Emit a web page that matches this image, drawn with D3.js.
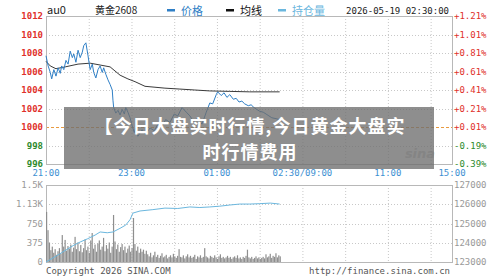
<!DOCTYPE html>
<html>
<head>
<meta charset="utf-8">
<script src="https://cdn.jsdelivr.net/npm/d3@7"></script>
<style>
  body { margin: 0; background: #fff; }
  svg { display: block; font-family: "DejaVu Sans Mono", monospace; font-size: 9px; }
</style>
</head>
<body>
<div id="chart"></div>
<script>
// slots from 21:00 (night session first, then day session)
const timeTicks = [0, 120, 240, 360, 480, 570];
const timeLabels = ["21:00", "23:00", "01:00", "02:30/09:00", "11:00", "15:00"];

const priceTicks = [1012, 1010, 1008, 1006, 1004, 1002, 1000, 998, 996];
const pctLabels = ["+1.21%", "+1.01%", "+0.81%", "+0.61%", "+0.41%", "+0.21%", "+0.01%", "-0.19%", "-0.39%"];
const prevClose = 1000;

const volTicks = [0, 375, 750, 1125, 1500];
const volLabels = ["0", "375", "750", "1.13K", "1.5K"];
const oiLabels = ["123000", "124000", "125000", "126000", "127000"];

// price (t in slots, p)
const priceT = [0, 3, 6, 8, 11, 14, 17, 20, 22, 25, 28, 31, 34, 37, 39, 42, 45, 48, 51, 53,
  56, 59, 62, 65, 67, 70, 73, 76, 79, 81, 84, 87, 90, 93, 94, 95, 98, 101, 104, 107,
  110, 112, 115, 118, 121, 124, 126, 129, 135, 140, 146, 152, 157, 163, 168, 174, 180, 185, 191, 197,
  202, 208, 213, 219, 225, 230, 234, 239, 241, 246, 250, 254, 258, 263, 267, 271, 275, 279, 284, 288,
  292, 296, 300, 305, 309, 313, 317, 323, 328];
const priceV = [1007.7, 1006.6, 1005.9, 1005.2, 1006.2, 1005.5, 1006.4, 1005.8, 1006.6, 1006.2,
  1007.2, 1006.8, 1008.2, 1007.5, 1007.9, 1007.0, 1008.3, 1007.5, 1008.1, 1008.8,
  1009.1, 1007.7, 1006.2, 1006.8, 1005.9, 1005.3, 1006.2, 1006.6, 1005.9, 1006.4,
  1005.7, 1005.1, 1004.6, 1004.0, 1002.9, 1002.1, 1001.5, 1001.8, 1001.3, 1001.9,
  1001.4, 1002.1, 1001.6, 1001.0, 1000.1, 999.4, 999.9, 999.0, 999.7, 999.2,
  999.9, 999.6, 1000.3, 1000.1, 1000.8, 1000.5, 1001.4, 1001.2, 1002.1, 1001.6,
  1001.2, 1000.5, 1001.0, 1000.3, 1001.6, 1002.6, 1002.5, 1003.5, 1003.8, 1003.4,
  1003.7, 1003.2, 1003.5, 1003.0, 1003.1, 1002.7, 1002.8, 1002.5, 1002.3, 1002.4,
  1002.1, 1001.9, 1001.7, 1001.6, 1001.4, 1001.2, 1001.0, 1000.9, 1000.8];

// average line
const avgT = [0, 6, 14, 27, 45, 62, 76, 90, 104, 115, 125, 139, 153, 167, 188, 209, 230, 258, 286, 328];
const avgV = [1007.1, 1006.6, 1006.3, 1006.5, 1006.8, 1006.9, 1006.7, 1006.5, 1005.6, 1005.2,
  1004.9, 1004.4, 1004.3, 1004.2, 1004.1, 1004.0, 1003.9, 1003.85, 1003.8, 1003.8];

// open interest
const oiT = [0, 14, 28, 38, 48, 58, 69, 76, 86, 94, 104, 112, 118, 122, 132, 150, 167, 185, 202, 216, 230, 244, 258, 272, 286, 300, 315, 328];
const oiV = [123000, 123300, 123620, 123850, 124040, 124200, 124400, 124560, 124520, 124560, 124750, 124920, 125200, 125540,
  125650, 125720, 125800, 125780, 125860, 125830, 125860, 125900, 125960, 126010, 126010, 126030, 126060, 126010];

// volume, one bar every 2 slots from 21:00
const volStep = 2;
const volume = [975, 620, 380, 230, 300, 180, 250, 140, 210, 270, 160, 525, 300, 430, 220, 310, 260, 340, 200, 280,
  490, 250, 380, 210, 330, 190, 270, 440, 230, 300, 180, 420, 565, 260, 340, 200, 360, 420, 240, 300,
  470, 210, 330, 260, 380, 180, 300, 916, 400, 250, 340, 200, 290, 350, 230, 300, 180, 260, 320, 200,
  270, 857, 350, 220, 300, 180, 260, 200, 240, 160, 220,
  150, 110, 180, 90, 130, 200, 100, 140, 80, 120,
  170, 90, 110, 140, 70, 100, 130, 90, 160, 110,
  80, 120, 250, 100, 90, 130, 70, 110, 150, 90,
  120, 80, 100, 140, 60, 110, 90, 130, 80, 100,
  270, 110, 90, 70, 120, 100, 80, 130, 90, 60,
  110, 150, 80, 100, 70, 90, 120, 80, 100, 60,
  90, 110, 80, 130, 70, 90, 60, 100, 80, 120,
  240, 90, 70, 100, 60, 80, 110, 70, 90, 60,
  80, 100, 70, 150, 90, 110, 160, 80, 120, 100,
  170, 90, 130, 110];

const W = 500, H = 277;
const L = 46, R = 452;
const top1 = 16, bot1 = 164, top2 = 185, bot2 = 262;

const svg = d3.select("#chart").append("svg").attr("width", W).attr("height", H);

const x = d3.scaleLinear().domain([0, 570]).range([L, R]);
const y = d3.scaleLinear().domain([996, 1012]).range([bot1, top1]);
const yv = d3.scaleLinear().domain([0, 1500]).range([bot2, top2]);
const yo = d3.scaleLinear().domain([123000, 127000]).range([bot2, top2]);

const GRID = "#c8c8c8", RED = "#e0302a", GREEN = "#2d8a2d", BLUE = "#2f7fc6";
const CJK = "'Noto Sans CJK SC', sans-serif";

// grids
const vGrid = d3.range(60, 570, 60);
[[top1, bot1], [top2, bot2]].forEach(([t, b]) => {
  svg.append("g").selectAll("line").data(vGrid).join("line")
    .attr("x1", d => x(d) + 0.5).attr("x2", d => x(d) + 0.5)
    .attr("y1", t).attr("y2", b)
    .attr("stroke", GRID).attr("stroke-dasharray", "1,2");
});
svg.append("g").selectAll("line").data(priceTicks.filter(d => d > 996 && d < 1012 && d !== prevClose)).join("line")
  .attr("x1", L).attr("x2", R)
  .attr("y1", d => Math.round(y(d)) + 0.5).attr("y2", d => Math.round(y(d)) + 0.5)
  .attr("stroke", GRID).attr("stroke-dasharray", "1,2");
svg.append("g").selectAll("line").data(volTicks.slice(1, -1)).join("line")
  .attr("x1", L).attr("x2", R)
  .attr("y1", d => Math.round(yv(d)) + 0.5).attr("y2", d => Math.round(yv(d)) + 0.5)
  .attr("stroke", GRID).attr("stroke-dasharray", "1,2");

svg.append("line")
  .attr("x1", L).attr("x2", R)
  .attr("y1", Math.round(y(prevClose)) + 0.5).attr("y2", Math.round(y(prevClose)) + 0.5)
  .attr("stroke", "#e89a40").attr("stroke-dasharray", "3,2");

// borders
svg.append("rect").attr("x", L + 0.5).attr("y", top1 + 0.5).attr("width", R - L).attr("height", bot1 - top1)
  .attr("fill", "none").attr("stroke", "#b8b8b8");
svg.append("rect").attr("x", L + 0.5).attr("y", top2 + 0.5).attr("width", R - L).attr("height", bot2 - top2)
  .attr("fill", "none").attr("stroke", "#b8b8b8");

// price axis labels
svg.append("g").selectAll("text").data(priceTicks).join("text")
  .attr("x", L - 3).attr("y", d => y(d)).attr("dy", "0.35em")
  .attr("text-anchor", "end").attr("font-weight", "bold")
  .attr("fill", d => d >= prevClose ? RED : GREEN)
  .text(d => d);
svg.append("g").selectAll("text").data(pctLabels).join("text")
  .attr("x", R + 2).attr("y", (d, i) => y(priceTicks[i])).attr("dy", "0.35em")
  .attr("fill", d => d[0] === "+" ? RED : GREEN)
  .text(d => d);

// time labels
svg.append("g").selectAll("text").data(timeTicks).join("text")
  .attr("x", d => x(d)).attr("y", 176)
  .attr("text-anchor", "middle").attr("fill", "#3d8fd2")
  .text((d, i) => timeLabels[i]);

// volume labels
svg.append("g").selectAll("text").data(volTicks).join("text")
  .attr("x", L - 3).attr("y", d => yv(d)).attr("dy", "0.35em")
  .attr("text-anchor", "end").attr("fill", "#999")
  .text((d, i) => volLabels[i]);
svg.append("g").selectAll("text").data(oiLabels).join("text")
  .attr("x", R + 2).attr("y", (d, i) => yo(123000 + i * 1000)).attr("dy", "0.35em")
  .attr("fill", "#999")
  .text(d => d);

// volume bars
svg.append("g").selectAll("rect").data(volume).join("rect")
  .attr("x", (d, i) => x(i * volStep))
  .attr("width", 1.2)
  .attr("y", d => yv(d))
  .attr("height", d => bot2 - yv(d))
  .attr("fill", "#8e8e8e");

// open interest
svg.append("path")
  .datum(oiT.map((t, i) => [t, oiV[i]]))
  .attr("fill", "none").attr("stroke", "#6bb7de").attr("stroke-width", 1)
  .attr("d", d3.line().x(d => x(d[0])).y(d => yo(d[1])));

// average + price
svg.append("path")
  .datum(avgT.map((t, i) => [t, avgV[i]]))
  .attr("fill", "none").attr("stroke", "#3a3a3a").attr("stroke-width", 1)
  .attr("d", d3.line().x(d => x(d[0])).y(d => y(d[1])));
svg.append("path")
  .datum(priceT.map((t, i) => [t, priceV[i]]))
  .attr("fill", "none").attr("stroke", BLUE).attr("stroke-width", 1)
  .attr("d", d3.line().x(d => x(d[0])).y(d => y(d[1])));

// header
svg.append("text").attr("x", 47).attr("y", 14).attr("fill", "#222")
  .style("font-family", CJK).style("font-size", "11px").text("au0");
svg.append("text").attr("x", 95).attr("y", 14).attr("fill", "#222")
  .style("font-family", CJK).style("font-size", "10px").text("黄金2608");
const legend = [
  { x: 167, c: BLUE, t: "价格" },
  { x: 226, c: "#111", t: "均线" },
  { x: 278, c: "#6bb7de", t: "持仓量" }
];
legend.forEach(l => {
  svg.append("rect").attr("x", l.x).attr("y", 9).attr("width", 8).attr("height", 2.5).attr("fill", l.c);
  svg.append("text").attr("x", l.x + 14).attr("y", 15).attr("fill", l.c)
    .style("font-family", CJK).style("font-size", "11px").text(l.t);
});
svg.append("text").attr("x", 449).attr("y", 14).attr("text-anchor", "end").attr("fill", "#222")
  .text("2026-05-19 02:30:00");

// footer
svg.append("text").attr("x", 46).attr("y", 274).attr("fill", "#555").text("Copyright 2026 SINA.COM");
svg.append("text").attr("x", 450).attr("y", 274).attr("text-anchor", "end").attr("fill", "#555")
  .text("http://finance.sina.com.cn");

// watermark
svg.append("text").attr("x", 420).attr("y", 158).attr("text-anchor", "middle")
  .attr("font-style", "italic").attr("font-weight", "bold").attr("fill", "#b0b0b0").attr("opacity", 0.6)
  .style("font-family", "'DejaVu Sans', sans-serif").style("font-size", "13px").text("sina");

// overlay caption
svg.append("rect").attr("x", 64).attr("y", 107).attr("width", 370).attr("height", 62)
  .attr("fill", "#6e6e6e").attr("opacity", 0.78);
const capLines = ["【今日大盘实时行情,今日黄金大盘实", "时行情费用"];
svg.append("g").selectAll("text").data(capLines).join("text")
  .attr("x", 250).attr("y", (d, i) => 133 + i * 26)
  .attr("text-anchor", "middle").attr("fill", "#fff").attr("font-weight", "bold")
  .style("font-family", CJK).style("font-size", "18px").style("letter-spacing", "1px")
  .text(d => d);
</script>
</body>
</html>
